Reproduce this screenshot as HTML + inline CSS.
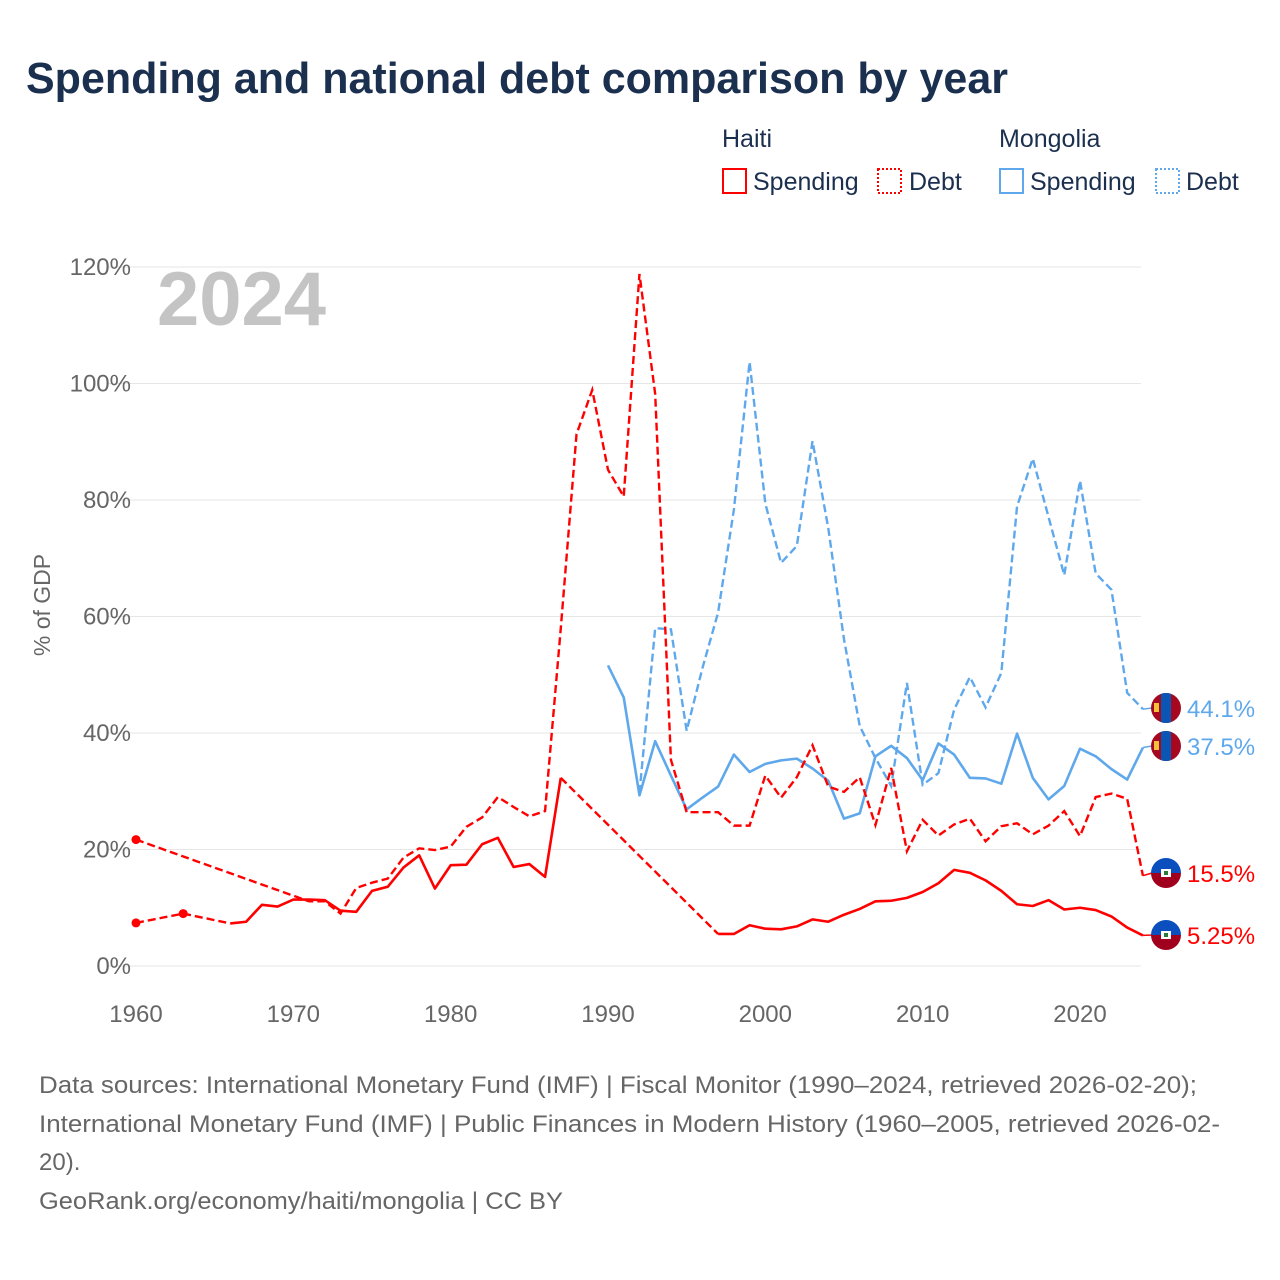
<!DOCTYPE html>
<html><head><meta charset="utf-8"><style>
body{margin:0;background:#fff;}
#root{position:relative;width:1280px;height:1280px;overflow:hidden;font-family:"Liberation Sans",sans-serif;}
svg text{font-family:"Liberation Sans",sans-serif;}
</style></head><body>
<div id="root">
<svg id="svg" width="1280" height="1280" viewBox="0 0 1280 1280">
<text x="26" y="93" font-size="44" font-weight="bold" fill="#1b2f4f" textLength="982" lengthAdjust="spacingAndGlyphs">Spending and national debt comparison by year</text>
<g font-size="25" fill="#1b2f4f">
<text x="722" y="147">Haiti</text>
<text x="999" y="147">Mongolia</text>
<g><rect x="723" y="169" width="23" height="24" fill="none" stroke="#ff0000" stroke-width="2"/><text x="753" y="190">Spending</text></g>
<g><rect x="878" y="169" width="23" height="24" fill="none" stroke="#ff0000" stroke-width="2" stroke-dasharray="2,2"/><text x="909" y="190">Debt</text></g>
<g><rect x="1000" y="169" width="23" height="24" fill="none" stroke="#5fa8ec" stroke-width="2"/><text x="1030" y="190">Spending</text></g>
<g><rect x="1156" y="169" width="23" height="24" fill="none" stroke="#5fa8ec" stroke-width="2" stroke-dasharray="2,2"/><text x="1186" y="190">Debt</text></g>
</g>
<text x="157" y="325" font-size="76" font-weight="bold" fill="#c4c4c4">2024</text>
<text transform="translate(50,605) rotate(-90)" text-anchor="middle" font-size="23" fill="#666">% of GDP</text>
<g id="grid"></g><g id="lines"></g><g id="ends"></g>
<g font-size="24" fill="#666">
<text x="39" y="1093" textLength="1158" lengthAdjust="spacingAndGlyphs">Data sources: International Monetary Fund (IMF) | Fiscal Monitor (1990–2024, retrieved 2026-02-20);</text>
<text x="39" y="1132" textLength="1181" lengthAdjust="spacingAndGlyphs">International Monetary Fund (IMF) | Public Finances in Modern History (1960–2005, retrieved 2026-02-</text>
<text x="39" y="1170">20).</text>
<text x="39" y="1209" textLength="524" lengthAdjust="spacingAndGlyphs">GeoRank.org/economy/haiti/mongolia | CC BY</text>
</g>
</svg>
</div>
<script>
const yTicks=[0,20,40,60,80,100,120];
const xTicks=[1960,1970,1980,1990,2000,2010,2020];
const haitiSpendYears=[1960,1963,1966,1967,1968,1969,1970,1971,1972,1973,1974,1975,1976,1977,1978,1979,1980,1981,1982,1983,1984,1985,1986,1987,1997,1998,1999,2000,2001,2002,2003,2004,2005,2006,2007,2008,2009,2010,2011,2012,2013,2014,2015,2016,2017,2018,2019,2020,2021,2022,2023,2024];
const haitiSpend=[7.4,9.0,7.3,7.6,10.5,10.2,11.4,11.4,11.3,9.5,9.3,12.9,13.6,16.9,19.0,13.3,17.3,17.4,20.9,22.0,17.0,17.5,15.3,32.3,5.5,5.5,7.0,6.4,6.3,6.8,8.0,7.6,8.8,9.8,11.1,11.2,11.7,12.7,14.2,16.5,16.0,14.7,12.9,10.6,10.3,11.3,9.7,10.0,9.6,8.5,6.6,5.25];
const haitiDebtYears=[1960,1971,1972,1973,1974,1975,1976,1977,1978,1979,1980,1981,1982,1983,1984,1985,1986,1987,1988,1989,1990,1991,1992,1993,1994,1995,1996,1997,1998,1999,2000,2001,2002,2003,2004,2005,2006,2007,2008,2009,2010,2011,2012,2013,2014,2015,2016,2017,2018,2019,2020,2021,2022,2023,2024];
const haitiDebt=[21.7,11.1,11.1,9.0,13.4,14.3,15.0,18.6,20.2,19.9,20.5,23.9,25.5,29.0,27.3,25.7,26.6,58,91.3,98.9,85.2,80.6,118.8,98.2,35.4,26.4,26.4,26.4,24.1,24.1,32.7,28.9,32.4,37.9,30.8,29.9,32.4,24.2,34.0,19.7,25.1,22.4,24.3,25.3,21.4,24.0,24.5,22.6,24.1,26.6,22.3,29.0,29.6,28.7,15.5];
const mongSpendYears=[1990,1991,1992,1993,1994,1995,1996,1997,1998,1999,2000,2001,2002,2003,2004,2005,2006,2007,2008,2009,2010,2011,2012,2013,2014,2015,2016,2017,2018,2019,2020,2021,2022,2023,2024];
const mongSpend=[51.6,46.1,29.3,38.6,32.7,26.9,28.9,30.8,36.3,33.3,34.7,35.3,35.6,33.9,31.8,25.3,26.2,36.0,37.8,35.7,31.9,38.2,36.3,32.3,32.2,31.3,39.9,32.3,28.6,30.9,37.3,36.0,33.8,32.0,37.5];
const mongDebtYears=[1992,1993,1994,1995,1996,1997,1998,1999,2000,2001,2002,2003,2004,2005,2006,2007,2008,2009,2010,2011,2012,2013,2014,2015,2016,2017,2018,2019,2020,2021,2022,2023,2024];
const mongDebt=[29.7,58.0,57.8,40.4,51.1,60.7,78.3,103.7,79.4,69.2,72.1,90.1,75.2,56.1,41.2,35.7,30.9,48.6,31.1,33.1,44.0,49.6,44.4,50.3,78.9,87.1,77.1,67.1,83.3,67.4,64.6,46.9,44.1];
const endLabels=["44.1%","37.5%","15.5%","5.25%"];

const NS="http://www.w3.org/2000/svg";
const X=y=>136+(y-1960)*15.733;
const Y=v=>966-v*5.825;
function mk(tag,attrs,parent){const e=document.createElementNS(NS,tag);for(const k in attrs)e.setAttribute(k,attrs[k]);parent.appendChild(e);return e;}
const grid=document.getElementById('grid');
yTicks.forEach(t=>{
  const l=mk('line',{x1:108,x2:1141,y1:Y(t),y2:Y(t),stroke:'#e6e6e6','stroke-width':1},grid);
  
  
  const tx=mk('text',{x:131,y:Y(t)+8,'text-anchor':'end','font-size':24,fill:'#666'},grid);
  tx.textContent=t+'%';
  
  
});
xTicks.forEach(t=>{
  const tx=mk('text',{x:X(t),y:1022,'text-anchor':'middle','font-size':24,fill:'#666'},grid);
  tx.textContent=t;
  
  
});
const lines=document.getElementById('lines');
function series(years,vals,color,dashed,name){
  const g=mk('g',{},lines);
  
  
  let solid=[],dash=[];
  for(let i=1;i<years.length;i++){
    const seg=[X(years[i-1]),Y(vals[i-1]),X(years[i]),Y(vals[i])];
    if(dashed||years[i]-years[i-1]>1)dash.push(seg);else solid.push(seg);
  }
  const toD=arr=>{let d='',last=null;arr.forEach(s=>{const a=s[0]+','+s[1];if(last!==a)d+='M'+a;d+='L'+s[2]+','+s[3];last=s[2]+','+s[3];});return d;};
  if(solid.length){const p=mk('path',{d:toD(solid),fill:'none',stroke:color,'stroke-width':2.6,'stroke-linejoin':'round'},g);}
  if(dash.length){const p=mk('path',{d:toD(dash),fill:'none',stroke:color,'stroke-width':2.4,'stroke-dasharray':'8,4'},g);}
  for(let i=0;i<years.length;i++){
    const prevGap=i===0||years[i]-years[i-1]>1, nextGap=i===years.length-1||years[i+1]-years[i]>1;
    if(prevGap&&nextGap&&i<years.length-1){const c=mk('circle',{cx:X(years[i]),cy:Y(vals[i]),r:4.5,fill:color},g);}
  }
}
series(mongDebtYears,mongDebt,'#5fa8ec',true,'mongolia-debt');
series(mongSpendYears,mongSpend,'#5fa8ec',false,'mongolia-spending');
series(haitiDebtYears,haitiDebt,'#ff0000',true,'haiti-debt');
series(haitiSpendYears,haitiSpend,'#ff0000',false,'haiti-spending');

const ends=document.getElementById('ends');
const endVals=[mongDebt[mongDebt.length-1],mongSpend[mongSpend.length-1],haitiDebt[haitiDebt.length-1],haitiSpend[haitiSpend.length-1]];
const endCols=['#5fa8ec','#5fa8ec','#ff0000','#ff0000'];
const endFlags=['mongolia','mongolia','haiti','haiti'];
const endYs=[708,746,873,935];
endVals.forEach((v,i)=>{
  const g=mk('g',{},ends);
  
  
  const cy=endYs[i],cx=1166;
  mk('line',{x1:1143,y1:Y(v),x2:1152,y2:cy,stroke:endCols[i],'stroke-width':1.5},g);
  const cid='c'+i;
  const cp=mk('clipPath',{id:cid},g);mk('circle',{cx:cx,cy:cy,r:15},cp);
  const f=mk('g',{'clip-path':'url(#'+cid+')'},g);
  
  
  if(endFlags[i]==='mongolia'){
    mk('rect',{x:cx-15,y:cy-15,width:30,height:30,fill:'#a6091f'},f);
    mk('rect',{x:cx-5,y:cy-15,width:10,height:30,fill:'#0b55b5'},f);
    mk('rect',{x:cx-12,y:cy-5,width:5,height:9,fill:'#f3c13a'},f);
  }else{
    mk('rect',{x:cx-15,y:cy-15,width:30,height:15,fill:'#0b4fbf'},f);
    mk('rect',{x:cx-15,y:cy,width:30,height:15,fill:'#a0001e'},f);
    mk('rect',{x:cx-5,y:cy-4,width:10,height:8,fill:'#fff'},f);
    mk('rect',{x:cx-2,y:cy-2,width:4,height:4,fill:'#2a7a3a'},f);
  }
  const t=mk('text',{x:1187,y:cy+9,'font-size':24,fill:endCols[i]},g);
  t.textContent=endLabels[i];
});
</script>
</body></html>
